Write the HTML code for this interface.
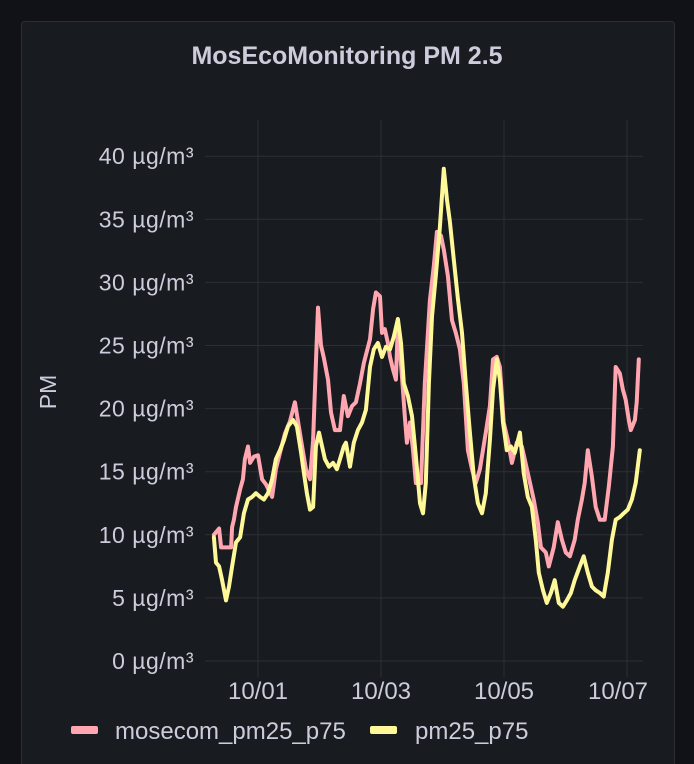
<!DOCTYPE html>
<html><head><meta charset="utf-8"><style>
html,body{margin:0;padding:0;background:#111217;width:694px;height:764px;overflow:hidden;font-family:"Liberation Sans",sans-serif}
</style></head><body>
<svg width="694" height="764" xmlns="http://www.w3.org/2000/svg">
<rect x="21.5" y="21.5" width="653" height="750" rx="3" fill="#181b1f" stroke="#2a2d33"/>
<text x="347" y="64" text-anchor="middle" fill="#ccccdc" font-size="25" font-weight="bold">MosEcoMonitoring PM 2.5</text>
<text transform="translate(56,392) rotate(-90)" text-anchor="middle" fill="#ccccdc" font-size="23">PM</text>
<g id="grid"></g>
<g id="series"></g>
<g>
<g><rect x="71" y="726" width="27" height="8" rx="2" fill="#ffa6b0"/><text x="115" y="739" fill="#ccccdc" font-size="24">mosecom_pm25_p75</text></g>
<g><rect x="370" y="726" width="27" height="8" rx="2" fill="#fff899"/><text x="415" y="739" fill="#ccccdc" font-size="24">pm25_p75</text></g>
</g>
</svg>
<script>
const yTicks=[0,5,10,15,20,25,30,35,40];
const xTickHours=[0,48,96,144];
const xTickLabels=["10/01","10/03","10/05","10/07"];
const mosecomHours=[-17.2,-15.2,-14.4,-10.5,-10.1,-9.4,-8.6,-7.0,-5.9,-5.1,-3.9,-3.1,-1.6,0,1.6,3.1,5.5,7.0,8.6,10.5,12.5,14.4,15.6,17.2,18.7,20.3,21.5,22.6,23.4,24.6,25.7,27.3,28.5,30.0,32.0,33.5,35.1,36.7,38.2,39.8,41.3,43.7,44.9,46.0,47.6,48.4,49.5,50.7,51.5,52.7,53.8,54.6,56.2,57.3,58.1,59.3,60.5,61.6,63.6,65.1,67.1,68.6,69.8,71.4,72.5,74.1,75.7,77.2,78.8,80.3,81.9,83.5,85.0,86.6,88.9,90.5,91.7,93.2,94.4,95.9,97.5,99.1,101.0,103.0,107.6,109.2,110.4,112.3,113.5,115.4,117.0,118.6,120.1,121.7,123.6,124.8,126.4,127.5,128.7,130.3,131.8,133.4,135.3,136.9,138.5,139.6,141.2,142.4,143.5,144.7,145.5,147.1,147.8,148.6];
const mosecomValues=[10.0,10.5,9.0,9.0,10.6,11.2,12.2,13.6,14.4,16,17,15.7,16.2,16.3,14.4,14,13,15.2,16.5,18,19,20.5,19,17,15.2,14.4,17.5,23.6,28,25,24,22.3,19.7,18.3,18.3,21,19.4,20.2,20.5,22,23.6,25.5,27.9,29.2,28.9,26,26.3,25.2,24.1,23.1,22.3,26.8,22.5,19.4,17.3,18.9,16.7,14.1,14.1,22,28.6,31.3,34,33.7,32.6,30.5,27,26,24.7,22,16.7,15.2,14.1,15.2,18.1,20.2,23.9,24.1,23.3,18.9,17.5,15.7,17.3,17,12.8,11,9,8.6,7.5,9,11,9.6,8.6,8.3,9.6,11.2,12.8,14.1,16.7,14.6,12.2,11.2,11.2,13.8,17,23.3,22.8,21.5,20.7,19.1,18.3,19.1,20.5,23.9];
const pm25Hours=[-17.2,-16.4,-15.2,-14.0,-12.5,-11.3,-10.1,-8.6,-7.0,-5.5,-3.9,-2.3,-0.8,0.8,2.3,3.9,5.5,7.0,8.6,10.1,11.7,13.7,15.2,16.8,17.9,19.1,20.3,21.5,22.6,23.8,25.0,26.1,27.7,29.3,30.8,32.0,33.5,34.3,35.9,37.4,39.0,40.6,42.1,43.7,45.2,46.8,48.4,49.9,51.5,53.0,54.6,55.8,56.9,58.5,60.1,61.6,63.2,64.4,65.5,66.7,67.9,69.4,71.0,72.5,73.7,74.9,76.4,78.0,79.6,81.1,82.7,84.2,85.8,87.4,88.9,90.5,91.7,93.2,94.4,95.6,97.1,98.7,100.2,102.2,103.7,105.3,106.9,108.4,109.6,111.2,112.7,114.3,115.8,117.4,119.0,120.5,122.1,123.6,125.6,127.1,128.7,130.3,131.8,133.4,134.9,136.5,138.1,139.6,141.2,142.7,144.3,145.9,147.4,149.0];
const pm25Values=[9.8,7.8,7.5,6.4,4.8,5.9,7.5,9.4,9.8,11.7,12.8,13,13.3,13,12.8,13.3,14.4,16,16.7,17.5,18.6,19.1,18.6,16.5,14.9,13.3,12,12.2,17,18.1,17,16,15.4,15.7,15.2,16,17,17.3,15.4,17.3,18.3,18.9,19.9,23.3,24.7,25.2,24.1,24.9,24.7,25.7,27.1,25.2,22,21,19.4,16.2,12.5,11.7,14.1,22,27.3,30.5,34.4,39,36.6,34.8,31.8,28.7,26,22,18.1,14.6,12.5,11.7,13.3,17.5,21.5,23.9,22.3,18.9,16.7,17,16.5,18.1,14.9,13,12.2,9.6,7,5.6,4.6,5.4,6.4,4.6,4.3,4.8,5.4,6.4,7.5,8.3,7,5.9,5.6,5.4,5.1,7,9.6,11.2,11.4,11.7,12,12.8,14.1,16.7];

const NS="http://www.w3.org/2000/svg";
function xScale(h){return 258+h*(123/48);}
function yScale(v){return 661-v*12.62;}
const grid=document.getElementById('grid');
const series=document.getElementById('series');
function mk(tag,attrs,parent){const e=document.createElementNS(NS,tag);for(const k in attrs)e.setAttribute(k,attrs[k]);parent.appendChild(e);return e;}
yTicks.forEach(function(v){
  const l=mk('line',{x1:205,x2:643,y1:yScale(v),y2:yScale(v),stroke:'#2c2f34','stroke-width':1},grid);
  
  
  const t=mk('text',{x:194,y:yScale(v)+8,'text-anchor':'end',fill:'#ccccdc','font-size':23,'letter-spacing':0.5},grid);
  t.textContent=v+' µg/m³';
  
  
});
xTickHours.forEach(function(h,i){
  const l=mk('line',{x1:xScale(h),x2:xScale(h),y1:120,y2:677,stroke:'#2c2f34','stroke-width':1},grid);
  
  
  let cx=xScale(h); if(cx>618)cx=618;
  const t=mk('text',{x:cx,y:699,'text-anchor':'middle',fill:'#ccccdc','font-size':24},grid);
  t.textContent=xTickLabels[i];
  
  
});
function drawLine(hours,vals,color,name){
  const d=hours.map(function(h,i){return (i?'L':'M')+xScale(h).toFixed(1)+','+yScale(vals[i]).toFixed(1);}).join('');
  const p=mk('path',{d:d,fill:'none',stroke:color,'stroke-width':4,'stroke-linejoin':'round','stroke-linecap':'round'},series);
  
  
}
drawLine(mosecomHours,mosecomValues,'#ffa6b0','line-mosecom-pm25-p75');
drawLine(pm25Hours,pm25Values,'#fff899','line-pm25-p75');
</script>
</body></html>
